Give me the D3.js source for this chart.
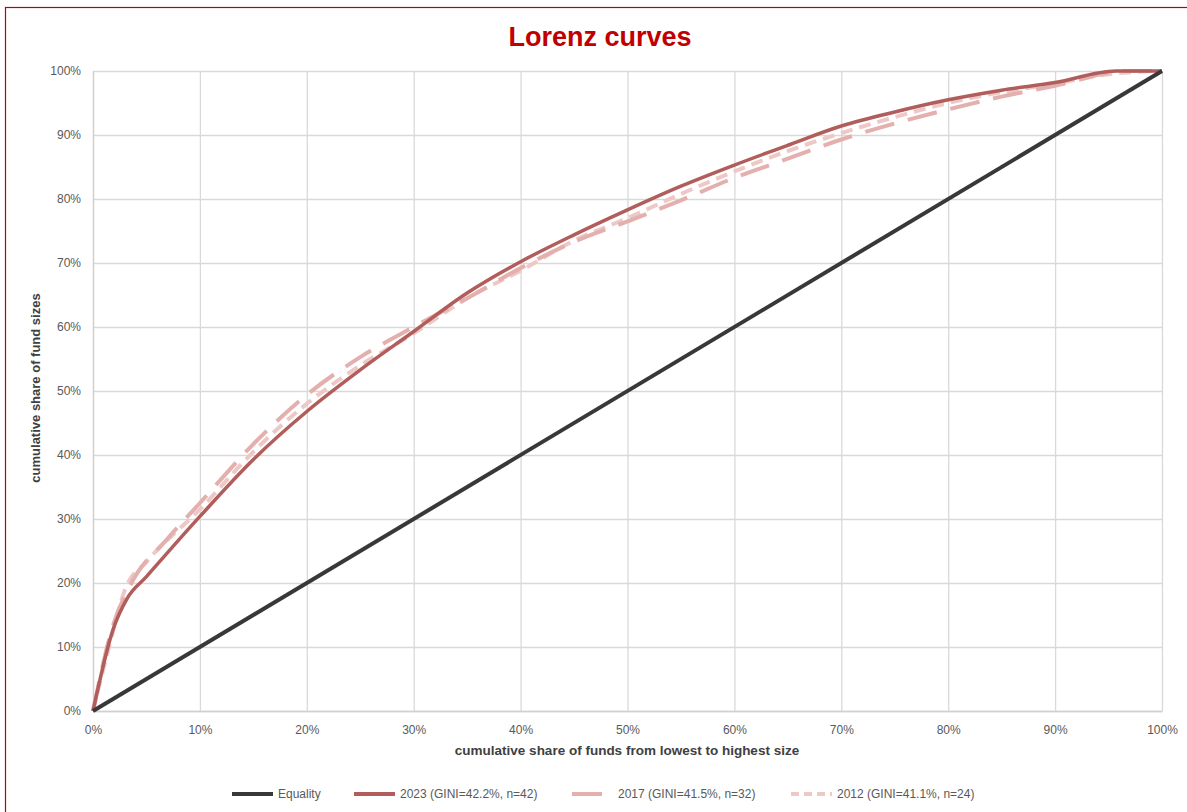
<!DOCTYPE html>
<html>
<head>
<meta charset="utf-8">
<script src="https://cdn.jsdelivr.net/npm/d3@7"></script>
<style>
  html, body { margin: 0; padding: 0; background: #fff; }
  svg { display: block; font-family: "Liberation Sans", Arial, sans-serif; }
</style>
</head>
<body>
<div id="chart"></div>
<script>
// cumulative share values, in percent
const ticks = [0, 10, 20, 30, 40, 50, 60, 70, 80, 90, 100];

const equalityX = [0, 100];
const equalityY = [0, 100];

const x2023 = [0, 1.85, 3.2, 5, 10, 15, 20, 25, 30, 35, 40, 45, 50, 55, 60, 65, 70, 75, 80, 85, 90, 95.7, 100];
const y2023 = [0, 12.6, 17.6, 21.0, 30.4, 39.3, 46.8, 53.3, 59.3, 65.3, 70.2, 74.4, 78.3, 82.0, 85.3, 88.4, 91.4, 93.6, 95.5, 97.0, 98.2, 100, 100];

const x2017 = [0, 1.8, 3.6, 6.85, 10, 15, 20, 25, 30, 35, 40, 45, 50, 55, 60, 65, 70, 75, 80, 85, 90, 96.7, 100];
const y2017 = [0, 13, 20, 26.7, 32.5, 41.7, 49.4, 55.3, 60, 64.5, 69.2, 73.3, 76.5, 79.8, 83.3, 86.3, 89.3, 91.8, 94.0, 96.0, 97.7, 100, 100];

const x2012 = [0, 1.5, 3, 5, 10, 15, 20, 25, 30, 35, 40, 45, 50, 55, 60, 65, 70, 75, 80, 85, 90, 95, 100];
const y2012 = [0, 10, 19, 23.3, 31.5, 40.5, 48, 54, 59, 64.5, 68.8, 73.5, 77, 80.8, 84.3, 87.5, 90.3, 92.8, 95, 96.7, 98, 99.5, 100];

const seriesNames = ["Equality", "2023 (GINI=42.2%, n=42)", "2017 (GINI=41.5%, n=32)", "2012 (GINI=41.1%, n=24)"];

const W = 1187, H = 812;
const margin = { top: 71, right: 25, bottom: 101, left: 93 };
const width = W - margin.left - margin.right;
const height = H - margin.top - margin.bottom;

const svg = d3.select("#chart").append("svg").attr("width", W).attr("height", H);

// outer red frame (runs off the right/bottom edge like the original)
svg.append("rect")
  .attr("x", 5.5).attr("y", 7.5)
  .attr("width", W + 20).attr("height", H + 20)
  .attr("fill", "none")
  .attr("stroke", "#c00000")
  .attr("stroke-width", 1.2);

svg.append("text")
  .attr("x", 600).attr("y", 46)
  .attr("text-anchor", "middle")
  .attr("fill", "#c00000")
  .style("font-size", "27px")
  .style("font-weight", "bold")
  .text("Lorenz curves");

const g = svg.append("g").attr("transform", `translate(${margin.left},${margin.top})`);

const x = d3.scaleLinear().domain([0, 100]).range([0, width]);
const y = d3.scaleLinear().domain([0, 100]).range([height, 0]);
const fmt = d => d + "%";

// grid
g.append("g")
  .attr("class", "grid")
  .call(d3.axisLeft(y).tickValues(ticks).tickSize(-width).tickFormat(""))
  .call(s => s.select(".domain").remove())
  .call(s => s.selectAll("line").attr("stroke", "#d9d9d9").attr("stroke-width", 1.3));
g.append("g")
  .attr("class", "grid")
  .attr("transform", `translate(0,${height})`)
  .call(d3.axisBottom(x).tickValues(ticks).tickSize(-height).tickFormat(""))
  .call(s => s.select(".domain").remove())
  .call(s => s.selectAll("line").attr("stroke", "#d9d9d9").attr("stroke-width", 1.3));

// axes
g.append("g")
  .attr("transform", `translate(0,${height})`)
  .call(d3.axisBottom(x).tickValues(ticks).tickSize(0).tickPadding(14).tickFormat(fmt))
  .call(s => s.select(".domain").attr("stroke", "#d0d0d0").attr("stroke-width", 1.3))
  .call(s => s.selectAll("text").attr("fill", "#595959").style("font-size", "12px"));
g.append("g")
  .call(d3.axisLeft(y).tickValues(ticks).tickSize(0).tickPadding(12).tickFormat(fmt))
  .call(s => s.select(".domain").attr("stroke", "#d0d0d0").attr("stroke-width", 1.3))
  .call(s => s.selectAll("text").attr("fill", "#595959").style("font-size", "12px"));

// axis titles
svg.append("text")
  .attr("x", 627).attr("y", 755)
  .attr("text-anchor", "middle")
  .attr("fill", "#404040")
  .style("font-size", "13.5px")
  .style("font-weight", "bold")
  .text("cumulative share of funds from lowest to highest size");
svg.append("text")
  .attr("transform", "translate(40,388) rotate(-90)")
  .attr("text-anchor", "middle")
  .attr("fill", "#404040")
  .style("font-size", "13px")
  .style("font-weight", "bold")
  .text("cumulative share of fund sizes");

// series
const series = [
  { name: seriesNames[3], xs: x2012, ys: y2012, color: "#eec8c7", w: 4, dash: "12,7" },
  { name: seriesNames[2], xs: x2017, ys: y2017, color: "#e3b0ae", w: 4, dash: "30,14" },
  { name: seriesNames[1], xs: x2023, ys: y2023, color: "#b05d5b", w: 3.5, dash: null },
  { name: seriesNames[0], xs: equalityX, ys: equalityY, color: "#383838", w: 4, dash: null }
];

const line = d3.line()
  .x(d => x(d[0]))
  .y(d => y(d[1]))
  .curve(d3.curveMonotoneX);

g.selectAll(".series")
  .data(series)
  .join("path")
  .attr("class", "series")
  .attr("d", s => line(s.xs.map((v, i) => [v, s.ys[i]])))
  .attr("fill", "none")
  .attr("stroke", s => s.color)
  .attr("stroke-width", s => s.w)
  .attr("stroke-dasharray", s => s.dash)
  .attr("stroke-linejoin", "round");

// legend
const legendItems = [
  { name: seriesNames[0], color: "#383838", dash: null, x0: 232 },
  { name: seriesNames[1], color: "#b05d5b", dash: null, x0: 354 },
  { name: seriesNames[2], color: "#e3b0ae", dash: "30,14", x0: 572 },
  { name: seriesNames[3], color: "#eec8c7", dash: "8,5", x0: 791 }
];
const legend = svg.append("g").attr("transform", "translate(0,794)");
legendItems.forEach(it => {
  legend.append("line")
    .attr("x1", it.x0).attr("x2", it.x0 + 41)
    .attr("stroke", it.color)
    .attr("stroke-width", 4)
    .attr("stroke-dasharray", it.dash);
  legend.append("text")
    .attr("x", it.x0 + 46).attr("y", 4)
    .attr("fill", "#595959")
    .style("font-size", "12px")
    .text(it.name);
});
</script>
</body>
</html>
